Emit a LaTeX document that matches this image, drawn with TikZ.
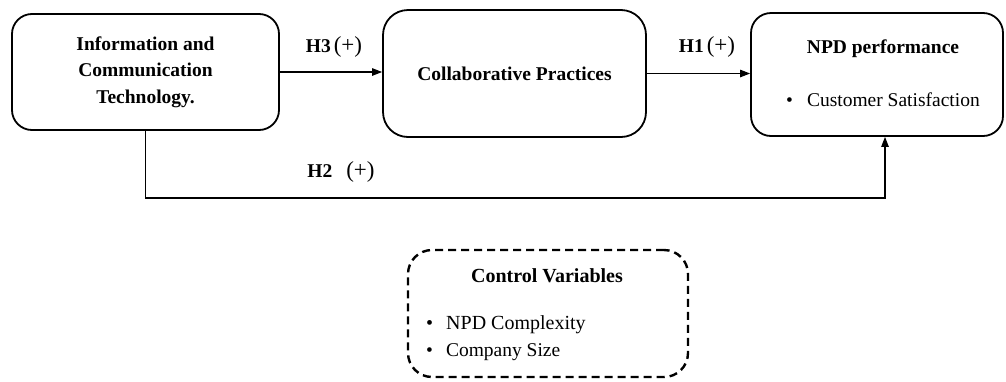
\documentclass[tikz,border=0pt]{standalone}
\usepackage{fontspec}
\setmainfont{Liberation Serif}
\usetikzlibrary{arrows.meta}
\newcommand{\pluslab}{{\fontsize{23}{23}\selectfont(+)}}
\begin{document}
\begin{tikzpicture}[x=1pt,y=-1pt,
  font=\fontsize{19.5}{26.5}\selectfont,
  box/.style={draw, line width=1.8pt, rounded corners=20pt, align=center, inner sep=0pt},
  ctlbox/.style={draw, line width=2.4pt, dash pattern=on 8pt off 5pt, rounded corners=24pt, inner sep=0pt},
  conn/.style={line width=1.1pt, -{Triangle[length=10pt,width=7.5pt]}},
  hlab/.style={inner sep=0pt, anchor=center}
]
\useasboundingbox (0,0) rectangle (1006,381);
% main boxes
\node (ict) [box, minimum width=267pt, minimum height=116pt] at (145.5,72)
  {\textbf{Information and}\\\textbf{Communication}\\\textbf{Technology.}};
\node (cp) [box, minimum width=263pt, minimum height=127pt, rounded corners=25pt] at (514.5,73.5)
  {\textbf{Collaborative Practices}};
\node (npd) [box, minimum width=252pt, minimum height=123pt] at (877,74.5) {};
\node (npdt) [hlab] at (883,49) {\textbf{NPD performance}};
\node (npdb) [hlab] at (883,100) {\textbullet\hspace{14pt}Customer Satisfaction};
% control variables
\node (ctl) [ctlbox, minimum width=280pt, minimum height=127pt] at (548,313.5) {};
\node (ctlt) [hlab] at (547,276) {\fontsize{20}{20}\selectfont\textbf{Control Variables}};
\node (ctll) [inner sep=0pt, anchor=west, align=left] at (426,338)
  {\fontsize{20}{20}\selectfont\textbullet\hspace{13pt}NPD Complexity\\\textbullet\hspace{13pt}Company Size};
% connectors
\coordinate (h2c) at (885,198);
\draw[conn] (ict.east) -- (ict.east -| cp.west);
\draw[conn] (cp.east) -- (cp.east -| npd.west);
\draw[conn] (ict.south) |- (h2c) -- (h2c |- npd.south);
% labels
\node (h3) [hlab] at (334,47) {\textbf{H3}\hspace{3pt}\pluslab};
\node (h1) [hlab] at (707,47) {\textbf{H1}\hspace{3pt}\pluslab};
\node (h2) [hlab] at (341,172) {\textbf{H2}\hspace{14pt}\pluslab};
\end{tikzpicture}
\end{document}
